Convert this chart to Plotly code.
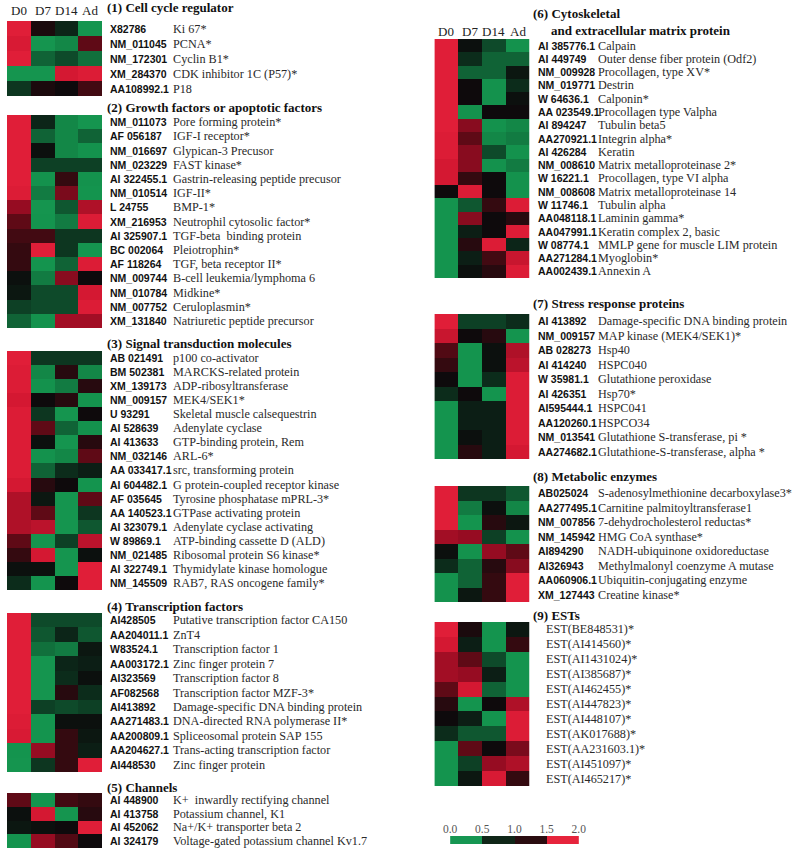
import plotly.graph_objects as go

W, H = 799, 853
days = ["D0", "D7", "D14", "Ad"]

# (1) Cell cycle regulator
g1_ids = ["X82786", "NM_011045", "NM_172301", "XM_284370", "AA108992.1"]
g1_names = ["Ki 67*", "PCNA*", "Cyclin B1*", "CDK inhibitor 1C (P57)*", "P18"]
g1_vals = [[1.9, 1.05, 0.8, 0.2], [1.8, 0.2, 0.35, 1.3], [1.9, 0.5, 0.6, 0.45],
           [0.2, 0.2, 1.75, 1.85], [0.7, 1.05, 1.0, 1.2]]

# (2) Growth factors or apoptotic factors
g2_ids = ["NM_011073", "AF 056187", "NM_016697", "NM_023229", "AI 322455.1", "NM_010514",
          "L 24755", "XM_216953", "AI 325907.1", "BC 002064", "AF 118264", "NM_009744",
          "NM_010784", "NM_007752", "XM_131840"]
g2_names = ["Pore forming protein*", "IGF-I receptor*", "Glypican-3 Precusor", "FAST kinase*",
            "Gastrin-releasing peptide precusor", "IGF-II*", "BMP-1*", "Neutrophil cytosolic factor*",
            "TGF-beta  binding protein", "Pleiotrophin*", "TGF, beta receptor II*",
            "B-cell leukemia/lymphoma 6", "Midkine*", "Ceruloplasmin*", "Natriuretic peptide precursor"]
g2_vals = [[1.9, 0.8, 0.35, 0.2], [1.9, 0.5, 0.35, 0.5], [1.9, 0.95, 0.35, 0.3],
           [1.9, 0.65, 0.65, 0.65], [1.9, 0.3, 1.15, 0.3], [1.85, 0.4, 1.4, 0.25],
           [1.5, 0.2, 0.55, 1.6], [1.3, 0.25, 0.4, 1.85], [1.2, 1.2, 0.7, 0.7],
           [1.15, 1.9, 0.7, 0.2], [1.15, 0.25, 0.5, 1.85], [0.95, 0.4, 1.45, 1.0],
           [0.9, 0.6, 0.6, 1.75], [0.65, 0.6, 0.6, 1.85], [0.5, 0.3, 1.55, 1.55]]

# (3) Signal transduction molecules
g3_ids = ["AB 021491", "BM 502381", "XM_139173", "NM_009157", "U 93291", "AI 528639",
          "AI 413633", "NM_032146", "AA 033417.1", "AI 604482.1", "AF 035645", "AA 140523.1",
          "AI 323079.1", "W 89869.1", "NM_021485", "AI 322749.1", "NM_145509"]
g3_names = ["p100 co-activator", "MARCKS-related protein", "ADP-ribosyltransferase", "MEK4/SEK1*",
            "Skeletal muscle calsequestrin", "Adenylate cyclase", "GTP-binding protein, Rem", "ARL-6*",
            "src, transforming protein", "G protein-coupled receptor kinase",
            "Tyrosine phosphatase mPRL-3*", "GTPase activating protein", "Adenylate cyclase activating",
            "ATP-binding cassette D (ALD)", "Ribosomal protein S6 kinase*",
            "Thymidylate kinase homologue", "RAB7, RAS oncogene family*"]
g3_vals = [[1.9, 0.7, 0.7, 0.7], [1.85, 0.35, 1.1, 0.35], [1.85, 0.3, 0.4, 1.1],
           [1.75, 1.0, 1.1, 0.25], [1.85, 0.7, 0.2, 1.0], [1.85, 1.3, 0.5, 0.3],
           [1.85, 0.95, 0.2, 1.1], [1.85, 0.3, 0.35, 1.3], [1.85, 0.5, 0.75, 0.85],
           [1.75, 1.1, 1.0, 0.25], [1.6, 0.9, 0.2, 1.3], [1.6, 1.3, 0.2, 0.7],
           [1.6, 1.65, 0.2, 0.55], [1.3, 0.25, 0.65, 1.65], [1.15, 1.75, 0.2, 0.95],
           [0.95, 0.95, 0.2, 1.9], [0.75, 0.25, 1.0, 1.9]]

# (4) Transcription factors
g4_ids = ["AI428505", "AA204011.1", "W83524.1", "AA003172.1", "AI323569", "AF082568",
          "AI413892", "AA271483.1", "AA200809.1", "AA204627.1", "AI448530"]
g4_names = ["Putative transcription factor CA150", "ZnT4", "Transcription factor 1",
            "Zinc finger protein 7", "Transcription factor 8", "Transcription factor MZF-3*",
            "Damage-specific DNA binding protein", "DNA-directed RNA polymerase II*",
            "Spliceosomal protein SAP 155", "Trans-acting transcription factor", "Zinc finger protein"]
g4_vals = [[1.9, 0.6, 0.6, 0.6], [1.9, 0.55, 0.8, 0.55], [1.9, 0.45, 0.4, 0.9],
           [1.9, 0.2, 0.8, 0.85], [1.9, 0.2, 0.75, 0.95], [1.9, 0.2, 1.1, 0.75],
           [1.9, 0.65, 0.6, 0.65], [1.85, 0.25, 0.95, 0.95], [1.8, 0.25, 1.15, 0.9],
           [0.25, 1.5, 1.15, 0.85], [0.2, 0.7, 1.15, 1.9]]

# (5) Channels
g5_ids = ["AI 448900", "AI 413758", "AI 452062", "AI 324179"]
g5_names = ["K+  inwardly rectifying channel", "Potassium channel, K1",
            "Na+/K+ transporter beta 2", "Voltage-gated potassium channel Kv1.7"]
g5_vals = [[1.3, 0.25, 1.2, 1.15], [0.95, 1.75, 0.2, 1.1], [0.9, 0.95, 1.0, 1.9],
           [0.25, 1.5, 1.25, 1.0]]

# (6) Cytoskeletal and extracellular matrix protein
g6_ids = ["AI 385776.1", "AI 449749", "NM_009928", "NM_019771", "W 64636.1", "AA 023549.1",
          "AI 894247", "AA270921.1", "AI 426284", "NM_008610", "W 16221.1", "NM_008608",
          "W 11746.1", "AA048118.1", "AA047991.1", "W 08774.1", "AA271284.1", "AA002439.1"]
g6_names = ["Calpain", "Outer dense fiber protein (Odf2)", "Procollagen, type XV*", "Destrin",
            "Calponin*", "Procollagen type Valpha", "Tubulin beta5", "Integrin alpha*", "Keratin",
            "Matrix metalloproteinase 2*", "Procollagen, type VI alpha", "Matrix metalloproteinase 14",
            "Tubulin alpha", "Laminin gamma*", "Keratin complex 2, basic",
            "MMLP gene for muscle LIM protein", "Myoglobin*", "Annexin A"]
g6_vals = [[1.9, 0.95, 0.6, 0.3], [1.9, 0.75, 0.5, 0.5], [1.9, 0.5, 0.5, 0.9],
           [1.9, 1.0, 0.3, 0.75], [1.9, 1.0, 0.3, 0.95], [1.9, 0.3, 1.0, 1.0],
           [1.9, 1.45, 0.3, 0.35], [1.85, 1.3, 0.35, 0.4], [1.85, 1.45, 0.6, 0.3],
           [1.75, 1.45, 0.3, 0.4], [1.75, 1.15, 1.0, 0.3], [1.0, 1.85, 1.0, 0.3],
           [0.25, 0.55, 1.15, 1.85], [0.25, 1.45, 1.0, 1.1], [0.25, 0.85, 1.0, 1.85],
           [0.25, 1.1, 1.85, 0.8], [0.25, 0.85, 1.2, 1.7], [0.25, 0.95, 1.1, 1.85]]

# (7) Stress response proteins
g7_ids = ["AI 413892", "NM_009157", "AB 028273", "AI 414240", "W 35981.1", "AI 426351",
          "AI595444.1", "AA120260.1", "NM_013541", "AA274682.1"]
g7_names = ["Damage-specific DNA binding protein", "MAP kinase (MEK4/SEK1)*", "Hsp40", "HSPC040",
            "Glutathione peroxidase", "Hsp70*", "HSPC041", "HSPCO34",
            "Glutathione S-transferase, pi *", "Glutathione-S-transferase, alpha *"]
g7_vals = [[1.9, 0.65, 0.65, 0.75], [1.7, 1.0, 1.1, 0.25], [1.25, 0.25, 0.95, 1.6],
           [1.15, 0.25, 0.95, 1.65], [1.0, 0.25, 0.75, 1.85], [0.75, 1.0, 0.25, 1.85],
           [0.25, 0.85, 0.85, 1.85], [0.25, 0.85, 0.85, 1.85], [0.25, 0.95, 0.85, 1.85],
           [0.25, 1.1, 0.85, 1.75]]

# (8) Metabolic enzymes
g8_ids = ["AB025024", "AA277495.1", "NM_007856", "NM_145942", "AI894290", "AI326943",
          "AA060906.1", "XM_127443"]
g8_names = ["S-adenosylmethionine decarboxylase3*", "Carnitine palmitoyltransferase1",
            "7-dehydrocholesterol reductas*", "HMG CoA synthase*", "NADH-ubiquinone oxidoreductase",
            "Methylmalonyl coenzyme A mutase", "Ubiquitin-conjugating enzyme", "Creatine kinase*"]
g8_vals = [[1.9, 0.7, 0.7, 0.55], [1.9, 0.4, 0.95, 0.35], [1.9, 0.25, 1.1, 0.9],
           [1.55, 1.5, 0.65, 0.3], [0.95, 0.3, 1.5, 1.3], [0.75, 0.5, 1.1, 1.45],
           [0.3, 0.5, 1.15, 1.9], [0.3, 0.9, 1.15, 1.9]]

# (9) ESTs
g9_names = ["EST(BE848531)*", "EST(AI414560)*", "EST(AI1431024)*", "EST(AI385687)*",
            "EST(AI462455)*", "EST(AI447823)*", "EST(AI448107)*", "EST(AK017688)*",
            "EST(AA231603.1)*", "EST(AI451097)*", "EST(AI465217)*"]
g9_vals = [[1.9, 1.05, 0.25, 0.9], [1.75, 0.85, 0.25, 1.15], [1.55, 1.3, 0.6, 0.25],
           [1.55, 1.5, 0.85, 0.25], [1.3, 1.75, 0.5, 0.25], [1.1, 0.25, 1.0, 1.6],
           [1.0, 0.85, 0.25, 1.85], [0.75, 0.55, 0.55, 1.85], [0.25, 1.3, 1.0, 1.4],
           [0.25, 0.65, 1.5, 1.6], [0.25, 0.9, 1.8, 1.15]]

legend_ticks = [0.0, 0.5, 1.0, 1.5, 2.0]

colorscale = [
    [0.0, "rgb(22,156,84)"], [0.15, "rgb(20,146,77)"], [0.225, "rgb(17,112,60)"],
    [0.3, "rgb(14,74,42)"], [0.375, "rgb(12,44,27)"], [0.475, "rgb(12,16,14)"],
    [0.5, "rgb(14,10,12)"], [0.575, "rgb(52,10,16)"], [0.65, "rgb(95,10,22)"],
    [0.75, "rgb(150,12,34)"], [0.875, "rgb(212,24,50)"], [1.0, "rgb(232,34,60)"],
]

# group layout in pixels: side, heatmap top, heatmap bottom, title lines
groups = [
    dict(ids=g1_ids, names=g1_names, z=g1_vals, side="L", top=21, bot=96,
         title=[("(1) Cell cycle regulator", 100, 8)]),
    dict(ids=g2_ids, names=g2_names, z=g2_vals, side="L", top=115, bot=328,
         title=[("(2) Growth factors or apoptotic factors", 100, 107)]),
    dict(ids=g3_ids, names=g3_names, z=g3_vals, side="L", top=351, bot=590,
         title=[("(3) Signal transduction molecules", 100, 343)]),
    dict(ids=g4_ids, names=g4_names, z=g4_vals, side="L", top=613, bot=772,
         title=[("(4) Transcription factors", 100, 606)]),
    dict(ids=g5_ids, names=g5_names, z=g5_vals, side="L", top=793, bot=848,
         title=[("(5) Channels", 100, 787)]),
    dict(ids=g6_ids, names=g6_names, z=g6_vals, side="R", top=39, bot=278,
         title=[("(6) Cytoskeletal", 533, 13), ("and extracellular matrix protein", 552, 30)]),
    dict(ids=g7_ids, names=g7_names, z=g7_vals, side="R", top=314, bot=459,
         title=[("(7) Stress response proteins", 533, 303)]),
    dict(ids=g8_ids, names=g8_names, z=g8_vals, side="R", top=486, bot=602,
         title=[("(8) Metabolic enzymes", 533, 477)]),
    dict(ids=None, names=g9_names, z=g9_vals, side="R", top=622, bot=786,
         title=[("(9) ESTs", 533, 615)]),
]

cols = {"L": dict(x0=0, x1=97, idx=103, namex=167),
        "R": dict(x0=435, x1=532, idx=538, namex=600)}

serif = "Liberation Serif"
sans = "Liberation Sans"

fig = go.Figure()
annotations = []
layout = {}

for i, g in enumerate(groups, start=1):
    c = cols[g["side"]]
    n = len(g["z"])
    xa = "x" if i == 1 else f"x{i}"
    ya = "y" if i == 1 else f"y{i}"
    fig.add_trace(go.Heatmap(
        z=g["z"], x=days, y=list(range(n)), xaxis=xa, yaxis=ya,
        colorscale=colorscale, zmin=0, zmax=2, showscale=False,
    ))
    layout[f"xaxis{i}"] = dict(domain=[c["x0"] / W, c["x1"] / W], anchor=ya,
                               visible=False, fixedrange=True)
    layout[f"yaxis{i}"] = dict(domain=[1 - g["bot"] / H, 1 - g["top"] / H], anchor=xa,
                               range=[n - 0.5, -0.5], visible=False, fixedrange=True)
    for r in range(n):
        if g["ids"] is not None:
            annotations.append(dict(
                x=c["idx"] / W, xref="paper", y=r, yref=ya, xanchor="left", yanchor="middle",
                text=f"<b>{g['ids'][r]}</b>", showarrow=False,
                font=dict(family=sans, size=10.5, color="#111")))
            annotations.append(dict(
                x=c["namex"] / W, xref="paper", y=r, yref=ya, xanchor="left", yanchor="middle",
                text=g["names"][r], showarrow=False,
                font=dict(family=serif, size=12.2, color="#2a2a2a")))
        else:
            annotations.append(dict(
                x=547 / W, xref="paper", y=r, yref=ya, xanchor="left", yanchor="middle",
                text=g["names"][r], showarrow=False,
                font=dict(family=serif, size=12.2, color="#2a2a2a")))
    for text, tx, ty in g["title"]:
        annotations.append(dict(
            x=tx / W, xref="paper", y=1 - ty / H, yref="paper", xanchor="left", yanchor="middle",
            text=f"<b>{text}</b>", showarrow=False,
            font=dict(family=serif, size=13, color="#111")))

# column headers above groups 1 and 6
for xa, hy in (("x", 10), ("x6", 32)):
    for d in days:
        annotations.append(dict(
            x=d, xref=xa, y=1 - hy / H, yref="paper", xanchor="center", yanchor="middle",
            text=d, showarrow=False, font=dict(family=serif, size=13, color="#222")))

# legend bar
k = len(groups) + 1
fig.add_trace(go.Heatmap(
    z=[[0, 1, 2, 3]], x=[0.25, 0.75, 1.25, 1.75], y=[0],
    xaxis=f"x{k}", yaxis=f"y{k}", zmin=0, zmax=3, showscale=False,
    colorscale=[[0, "rgb(22,150,82)"], [0.25, "rgb(22,150,82)"],
                [0.25, "rgb(16,38,24)"], [0.5, "rgb(16,38,24)"],
                [0.5, "rgb(42,12,16)"], [0.75, "rgb(42,12,16)"],
                [0.75, "rgb(230,36,60)"], [1.0, "rgb(230,36,60)"]],
))
layout[f"xaxis{k}"] = dict(domain=[451 / W, 582 / W], anchor=f"y{k}", range=[0, 2],
                           side="top", tickvals=legend_ticks,
                           ticktext=[f"{v:.1f}" for v in legend_ticks],
                           ticks="", showgrid=False, zeroline=False, showline=False,
                           tickfont=dict(family=serif, size=11.5, color="#555"),
                           fixedrange=True)
layout[f"yaxis{k}"] = dict(domain=[1 - 844 / H, 1 - 836 / H], anchor=f"x{k}",
                           visible=False, fixedrange=True)

fig.update_layout(
    width=W, height=H,
    margin=dict(l=0, r=0, t=0, b=0),
    paper_bgcolor="white", plot_bgcolor="white",
    showlegend=False,
    annotations=annotations,
    **layout,
)

# drop the browser's default body margin so the figure sits at the page corner
fig.write_html("out.html", config={"displayModeBar": False},
               post_script="document.body.style.margin='0';")
